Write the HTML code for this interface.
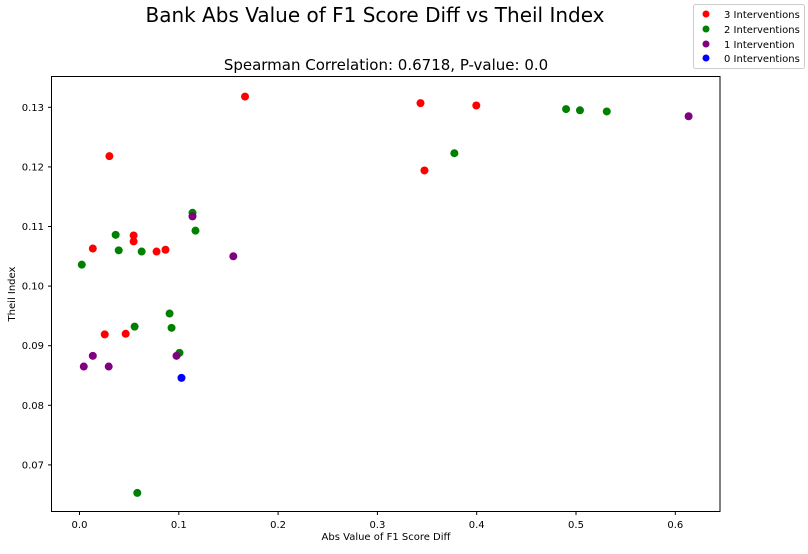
<!DOCTYPE html>
<html><head><meta charset="utf-8"><style>
body{margin:0;background:#fff;font-family:"Liberation Sans","DejaVu Sans",sans-serif;}
svg text{font-family:"DejaVu Sans","Liberation Sans",sans-serif;}
</style></head><body>
<svg id="chart" width="808" height="549" xmlns="http://www.w3.org/2000/svg">
<rect width="808" height="549" fill="#fff"/>
<text x="375" y="22" font-size="20" text-anchor="middle">Bank Abs Value of F1 Score Diff vs Theil Index</text>
<text x="386" y="70" font-size="15" text-anchor="middle">Spearman Correlation: 0.6718, P-value: 0.0</text>
<g id="ticks"></g>
<g id="points"></g>
<rect x="51.5" y="76.5" width="668.5" height="435" fill="none" stroke="#000" stroke-width="1"/>
<text x="386" y="540" font-size="10" text-anchor="middle">Abs Value of F1 Score Diff</text>
<text x="15" y="294" font-size="10" text-anchor="middle" transform="rotate(-90 15 294)">Theil Index</text>
<g>
<rect x="693.5" y="4.5" width="111" height="64" rx="2" fill="#fff" stroke="#ccc"/>
<circle cx="706" cy="14" r="3.5" fill="red"/><text x="724" y="18" font-size="10">3 Interventions</text>
<circle cx="706" cy="29" r="3.5" fill="green"/><text x="724" y="33" font-size="10">2 Interventions</text>
<circle cx="706" cy="44" r="3.5" fill="purple"/><text x="724" y="48" font-size="10">1 Intervention</text>
<circle cx="706" cy="58" r="3.5" fill="blue"/><text x="724" y="62" font-size="10">0 Interventions</text>
</g>
</svg>
<script>
const xTicks=[0.0,0.1,0.2,0.3,0.4,0.5,0.6];
const xTickLabels=["0.0","0.1","0.2","0.3","0.4","0.5","0.6"];
const yTicks=[0.07,0.08,0.09,0.10,0.11,0.12,0.13];
const yTickLabels=["0.07","0.08","0.09","0.10","0.11","0.12","0.13"];
const seriesNames=["3 Interventions","2 Interventions","1 Intervention","0 Interventions"];
const seriesColors=["red","green","purple","blue"];
const x3=[0.0301,0.1667,0.3434,0.3474,0.3996,0.0545,0.0545,0.0134,0.0776,0.0866,0.0254,0.0465];
const y3=[0.1218,0.1318,0.1307,0.1194,0.1303,0.1085,0.1075,0.1063,0.1058,0.1061,0.0919,0.0920];
const x2=[0.1138,0.1168,0.0364,0.0395,0.0626,0.0023,0.0907,0.0927,0.0555,0.1007,0.0582,0.3775,0.490,0.504,0.531];
const y2=[0.1123,0.1093,0.1086,0.1060,0.1058,0.1036,0.0954,0.0930,0.0932,0.0888,0.0653,0.1223,0.1297,0.1295,0.1293];
const x1=[0.1138,0.1549,0.0134,0.0977,0.0043,0.0294,0.6134];
const y1=[0.1117,0.1050,0.0883,0.0883,0.0865,0.0865,0.1285];
const x0=[0.1027];
const y0=[0.0846];
const NS="http://www.w3.org/2000/svg";
function X(v){return 79.5+v*993;}
function Y(v){return 107.3+(0.13-v)*5960;}
const tg=document.getElementById('ticks');
xTicks.forEach((t,i)=>{
 const l=document.createElementNS(NS,'line');
 l.setAttribute('x1',X(t));l.setAttribute('x2',X(t));l.setAttribute('y1',511.5);l.setAttribute('y2',515);l.setAttribute('stroke','#000');
 
 
 tg.appendChild(l);
 const tx=document.createElementNS(NS,'text');
 tx.setAttribute('x',X(t));tx.setAttribute('y',528);tx.setAttribute('font-size','10');tx.setAttribute('text-anchor','middle');
 tx.textContent=xTickLabels[i];
 
 
 tg.appendChild(tx);
});
yTicks.forEach((t,i)=>{
 const l=document.createElementNS(NS,'line');
 l.setAttribute('x1',48);l.setAttribute('x2',51.5);l.setAttribute('y1',Y(t));l.setAttribute('y2',Y(t));l.setAttribute('stroke','#000');
 
 
 tg.appendChild(l);
 const tx=document.createElementNS(NS,'text');
 tx.setAttribute('x',44);tx.setAttribute('y',Y(t)+3.5);tx.setAttribute('font-size','10');tx.setAttribute('text-anchor','end');
 tx.textContent=yTickLabels[i];
 
 
 tg.appendChild(tx);
});
const pg=document.getElementById('points');
[[x3,y3],[x2,y2],[x1,y1],[x0,y0]].forEach((s,si)=>{
 s[0].forEach((xv,i)=>{
  const c=document.createElementNS(NS,'circle');
  c.setAttribute('cx',X(xv));c.setAttribute('cy',Y(s[1][i]));c.setAttribute('r',4);c.setAttribute('fill',seriesColors[si]);
  
  
  pg.appendChild(c);
 });
});
</script>
</body></html>
